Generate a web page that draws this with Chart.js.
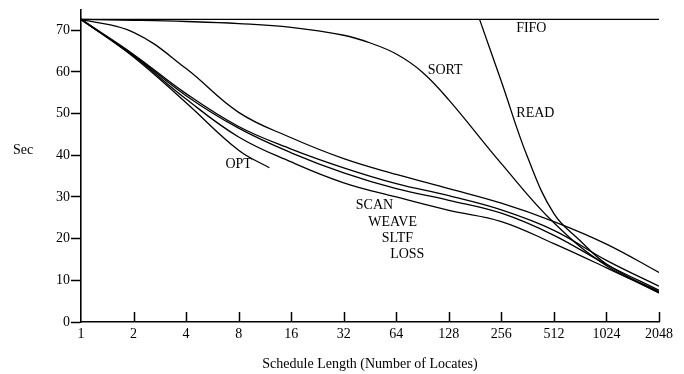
<!DOCTYPE html>
<html>
<head>
<meta charset="utf-8">
<script src="https://cdn.jsdelivr.net/npm/chart.js@4/dist/chart.umd.min.js"></script>
<style>
html,body{margin:0;padding:0;background:#fff;}
#wrap{width:684px;height:374px;position:relative;}
</style>
</head>
<body>
<div id="wrap"><canvas id="c" width="684" height="374"></canvas></div>
<script>
// ---- data ----
const lengths = [1, 2, 4, 8, 16, 32, 64, 128, 256, 512, 1024, 2048];
const tickLengths = [1, 2, 4, 8, 16, 32, 64, 128, 256, 512, 1024, 2048];
const yTicks = [0, 10, 20, 30, 40, 50, 60, 70];

const fifoSec  = [72.6, 72.6, 72.6, 72.6, 72.6, 72.6, 72.6, 72.6, 72.6, 72.6, 72.6, 72.6];
const scanSec  = [72.6, 69.5, 60.8, 50.3, 44.2, 39.2, 35.4, 32.0, 28.5, 24.1, 18.7, 11.9];
const weaveSec = [72.6, 64.2, 54.8, 46.9, 41.5, 37.0, 33.2, 30.3, 26.9, 22.0, 14.8, 8.6];
const sltfSec  = [72.6, 64.0, 54.3, 46.5, 40.6, 35.8, 32.0, 29.2, 26.1, 20.8, 13.8, 7.6];
const lossSec  = [72.6, 63.8, 53.5, 44.4, 38.4, 33.4, 30.0, 26.8, 24.1, 18.8, 13.0, 7.0];

const sortLengths = [1, 2, 4, 8, 16, 32, 45, 64, 90, 128, 256, 512, 1024, 2048];
const sortSec     = [72.6, 72.4, 72.1, 71.6, 70.7, 68.8, 67.0, 64.3, 60.0, 53.3, 38.0, 23.8, 13.5, 7.3];

const optLengths = [1, 2, 4, 8, 12];
const optSec     = [72.6, 63.6, 52.6, 41.2, 37.0];

const readLengths = [192, 256, 362, 512, 724, 1024, 2048];
const readSec     = [72.6, 57.7, 39.5, 26.0, 19.5, 13.9, 7.0];

const seriesNames = ['FIFO', 'SORT', 'READ', 'OPT', 'SCAN', 'WEAVE', 'SLTF', 'LOSS'];
// label anchors in data coordinates (schedule length, seconds)
const labelAt = {
  FIFO: [380, 70.4], SORT: [122, 60.4], READ: [401, 50.0], OPT: [8, 37.9],
  SCAN: [48, 27.9], WEAVE: [61, 23.8], SLTF: [65, 20.1], LOSS: [74, 16.3]
};

// ---- build chart ----
const FONT = "'Liberation Serif', 'DejaVu Serif', serif";
Chart.defaults.font.family = FONT;
Chart.defaults.font.size = 14;
Chart.defaults.color = '#000';

function pts(xs, ys) { return xs.map((x, i) => ({ x: x, y: ys[i] })); }
const seriesData = {
  FIFO: pts(lengths, fifoSec),
  SORT: pts(sortLengths, sortSec),
  READ: pts(readLengths, readSec),
  OPT: pts(optLengths, optSec),
  SCAN: pts(lengths, scanSec),
  WEAVE: pts(lengths, weaveSec),
  SLTF: pts(lengths, sltfSec),
  LOSS: pts(lengths, lossSec)
};

const datasets = seriesNames.map(n => ({
  label: n,
  data: seriesData[n],
  borderColor: '#000',
  borderWidth: 1.3,
  pointRadius: 0,
  fill: false,
  tension: 0.4
}));

const extras = {
  id: 'extras',
  afterDraw(chart) {
    const ctx = chart.ctx;
    const xs = chart.scales.x, ys = chart.scales.y;
    ctx.save();
    // inward x tick marks
    ctx.strokeStyle = '#000';
    ctx.lineWidth = 1.5;
    tickLengths.forEach(v => {
      if (v === 1) return;
      const px = Math.round(xs.getPixelForValue(v)) + 0.5;
      ctx.beginPath();
      ctx.moveTo(px, ys.bottom);
      ctx.lineTo(px, ys.bottom - 10);
      ctx.stroke();
    });
    // series labels
    ctx.fillStyle = '#000';
    ctx.font = '14px ' + FONT;
    ctx.textAlign = 'center';
    ctx.textBaseline = 'middle';
    seriesNames.forEach(n => {
      const a = labelAt[n];
      ctx.fillText(n, xs.getPixelForValue(a[0]), ys.getPixelForValue(a[1]));
    });
    // y title (horizontal)
    ctx.fillText('Sec', 23, 150);
    ctx.restore();
  }
};

new Chart(document.getElementById('c'), {
  type: 'line',
  data: { datasets: datasets },
  options: {
    responsive: false,
    animation: false,
    events: [],
    layout: { padding: { left: 0, right: 25, top: 5, bottom: 0 } },
    plugins: { legend: { display: false }, tooltip: { enabled: false } },
    scales: {
      x: {
        type: 'logarithmic',
        min: 1, max: 2048,
        afterBuildTicks: s => { s.ticks = tickLengths.map(v => ({ value: v })); },
        afterFit: s => { s.height = 52; },
        ticks: { autoSkip: false, maxRotation: 0, padding: 4, callback: v => String(v), font: { size: 14 } },
        grid: { display: false, drawTicks: false },
        border: { display: true, color: '#000', width: 1.6 },
        title: { display: true, text: 'Schedule Length (Number of Locates)', padding: { top: 0, bottom: 1 }, font: { size: 14 } }
      },
      y: {
        type: 'linear',
        min: 0, max: 75,
        afterBuildTicks: s => { s.ticks = yTicks.map(v => ({ value: v })); },
        afterFit: s => { s.width = 81; },
        ticks: { padding: 1, font: { size: 14 } },
        grid: { drawOnChartArea: false, drawTicks: true, tickLength: 10, color: '#000', tickWidth: 1.5 },
        border: { display: true, color: '#000', width: 1.6 }
      }
    }
  },
  plugins: [extras]
});
</script>
</body>
</html>
